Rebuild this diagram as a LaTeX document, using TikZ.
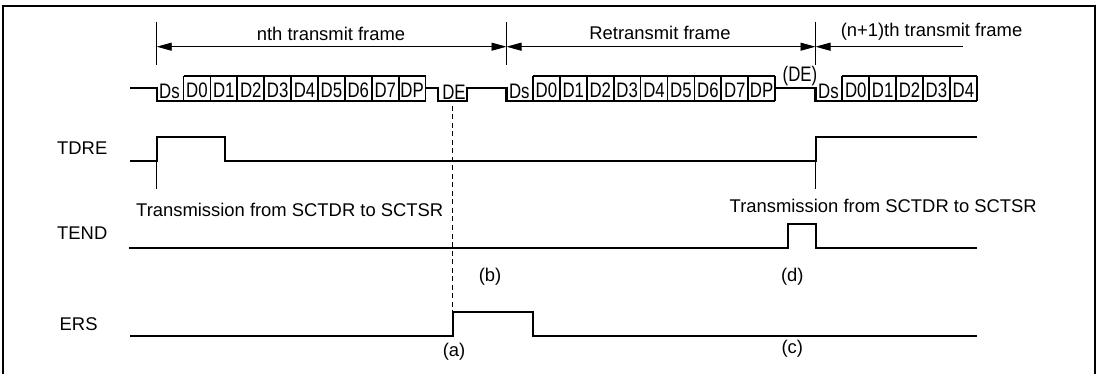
\documentclass[tikz,border=0pt]{standalone}
\usepackage{fontspec}
\setmainfont{Liberation Sans}
\newfontfamily\condfont[FakeStretch=0.8]{Liberation Sans}
\usetikzlibrary{arrows.meta}
\begin{document}
\begin{tikzpicture}[x=1pt,y=-1pt,
  sig/.style={line width=2.2pt, line join=miter},
  boxline/.style={line width=1.7pt},
  tick/.style={line width=0.9pt},
  dim/.style={line width=0.9pt},
  lbl/.style={font=\fontsize{18.4}{20}\selectfont, inner sep=0pt, anchor=base},
  bit/.style={font=\condfont\fontsize{21}{22}\selectfont, inner sep=0pt, anchor=base},
  tipA/.tip={Triangle[length=15pt,width=8pt]}
]
\useasboundingbox (0,0) rectangle (1100,374);
\def\w{26.9}
% frame
\draw[line width=2.6pt] (3,378) -- (3,6) -- (1095,6) -- (1095,378);

% ticks on top
\coordinate (t1a) at (156.7,22); \coordinate (t1b) at (156.7,65);
\coordinate (t2a) at (506.5,22); \coordinate (t2b) at (506.5,65);
\coordinate (t3a) at (815.5,22); \coordinate (t3b) at (815.5,65);
\draw[tick] (t1a) -- (t1b);
\draw[tick] (t2a) -- (t2b);
\draw[tick] (t3a) -- (t3b);
\coordinate (a1) at (156.7,46.7);
\coordinate (a2) at (506.5,46.7);
\coordinate (a3) at (815.5,46.7);
\coordinate (a4) at (963,46.7);
\draw[dim, tipA-tipA] (a1) -- (a2);
\draw[dim, tipA-tipA] (a2) -- (a3);
\draw[dim, tipA-] (a3) -- (a4);
\node[lbl] (fn) at (331,40.5) {nth transmit frame};
\node[lbl] (fr) at (660,40) {Retransmit frame};
\node[lbl] (fn1) at (931.5,37) {(n+1)th transmit frame};

% data line
\draw[sig] (130,88) -- (156.7,88) -- (156.7,101) -- (425.6,101);
\draw[sig] (183.5,76) -- (425.6,76);
\foreach \k in {0,...,9} \draw[boxline] ({183.5+\k*\w},76) -- ({183.5+\k*\w},101);
\draw[sig] (425.6,88) -- (438.3,88) -- (438.3,101) -- (467,101) -- (467,88) -- (506.5,88) -- (506.5,101) -- (775.1,101);
\draw[sig] (533,76) -- (775.1,76);
\foreach \k in {0,...,9} \draw[boxline] ({533+\k*\w},76) -- ({533+\k*\w},101);
\draw[sig] (775.1,88) -- (815.5,88) -- (815.5,101) -- (976.8,101);
\draw[sig] (842.3,76) -- (976.8,76);
\foreach \k in {0,...,5} \draw[boxline] ({842.3+\k*\w},76) -- ({842.3+\k*\w},101);

\node[bit] (dsA) at (169.5,98.3) {Ds};
\foreach \t [count=\k from 0] in {D0,D1,D2,D3,D4,D5,D6,D7,DP}
  \node[bit] (nA\k) at ({183.5+(\k+0.5)*\w},97.5) {\t};
\node[bit] (de) at (454,99.3) {DE};
\node[bit] (dsB) at (519.3,98.3) {Ds};
\foreach \t [count=\k from 0] in {D0,D1,D2,D3,D4,D5,D6,D7,DP}
  \node[bit] (nB\k) at ({533+(\k+0.5)*\w},97.5) {\t};
\node[bit] (deB) at (800,81.5) {(DE)};
\node[bit] (dsC) at (828.5,98.3) {Ds};
\foreach \t [count=\k from 0] in {D0,D1,D2,D3,D4}
  \node[bit] (nC\k) at ({842.3+(\k+0.5)*\w},97.5) {\t};

% signal names
\node[lbl, anchor=base west] (tdre) at (57,155) {TDRE};
\node[lbl, anchor=base west] (tend) at (57,240) {TEND};
\node[lbl, anchor=base west] (ers) at (59.5,330) {ERS};

% TDRE
\draw[sig] (130,161) -- (156.7,161) -- (156.7,136.7) -- (225,136.7) -- (225,161) -- (815.7,161) -- (815.7,136.7) -- (976.7,136.7);
\coordinate (u1a) at (156.7,161); \coordinate (u1b) at (156.7,189);
\coordinate (u2a) at (815.7,161); \coordinate (u2b) at (815.7,189);
\draw[tick] (u1a) -- (u1b);
\draw[tick] (u2a) -- (u2b);
\node[lbl, anchor=base west] (tx1) at (136,216.7) {Transmission from SCTDR to SCTSR};
\node[lbl, anchor=base west] (tx2) at (729.5,212.3) {Transmission from SCTDR to SCTSR};

% TEND
\draw[sig] (129.3,248.3) -- (788.3,248.3) -- (788.3,224) -- (815.7,224) -- (815.7,248.3) -- (976.7,248.3);

% ERS
\draw[sig] (130,336) -- (452.7,336) -- (452.7,311.7) -- (533.3,311.7) -- (533.3,336) -- (976.7,336);

% dashed marker
\coordinate (dv1) at (452.7,106);
\coordinate (dv2) at (452.7,311.7);
\draw[line width=0.9pt, dash pattern=on 5pt off 3.5pt] (dv1) -- (dv2);

\node[lbl] (lb) at (490,281.5) {(b)};
\node[lbl] (ld) at (792.3,281.5) {(d)};
\node[lbl] (la) at (454,356.4) {(a)};
\node[lbl] (lc) at (792.3,353) {(c)};
\end{tikzpicture}
\end{document}
